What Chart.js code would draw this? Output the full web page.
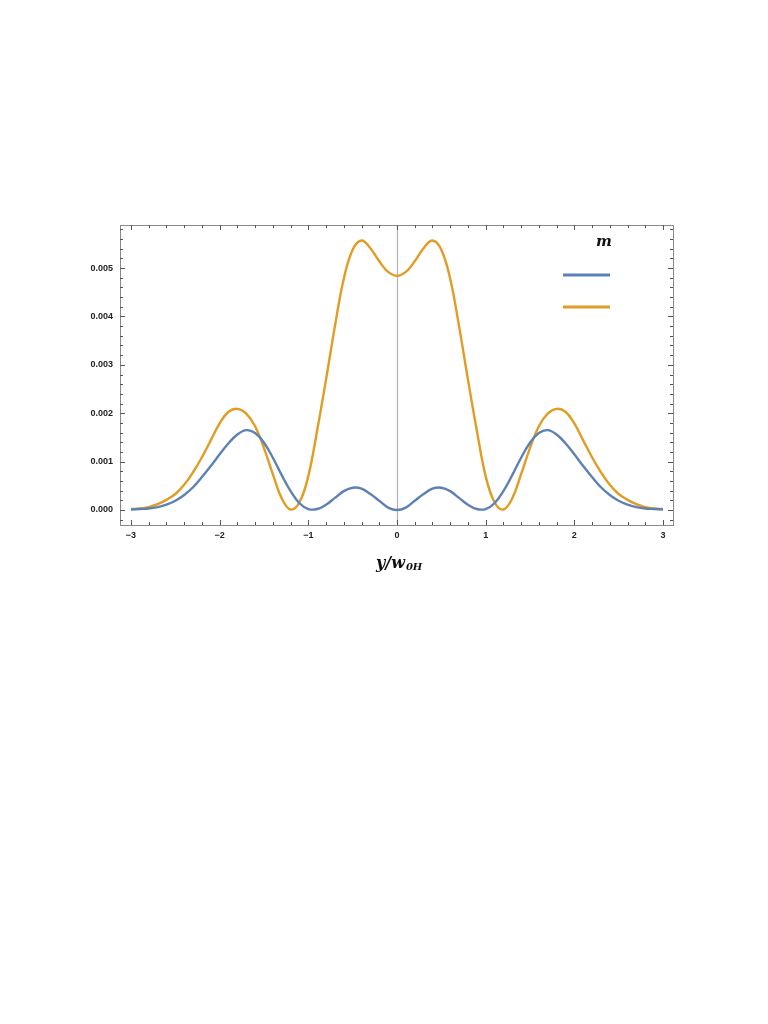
<!DOCTYPE html>
<html>
<head>
<meta charset="utf-8">
<script src="https://cdn.jsdelivr.net/npm/chart.js@4/dist/chart.umd.min.js"></script>
<style>
  html, body { margin: 0; padding: 0; background: #fff; }
  #wrap { position: relative; width: 768px; height: 1024px; }
</style>
</head>
<body>
<div id="wrap"><canvas id="plot"></canvas></div>
<script>
// positions along y/w0H (step 0.1)
const xs = [
  -3.0, -2.9, -2.8, -2.7, -2.6, -2.5, -2.4, -2.3, -2.2, -2.1,
  -2.0, -1.9, -1.8, -1.7, -1.6, -1.5, -1.4, -1.3, -1.2, -1.1,
  -1.0, -0.9, -0.8, -0.7, -0.6, -0.5, -0.4, -0.3, -0.2, -0.1,
  0.0,
  0.1, 0.2, 0.3, 0.4, 0.5, 0.6, 0.7, 0.8, 0.9, 1.0,
  1.1, 1.2, 1.3, 1.4, 1.5, 1.6, 1.7, 1.8, 1.9, 2.0,
  2.1, 2.2, 2.3, 2.4, 2.5, 2.6, 2.7, 2.8, 2.9, 3.0
];

// blue curve
const blueVals = [
  0.00001, 0.00002, 0.00003, 0.00006, 0.00011, 0.00019, 0.00031, 0.00047, 0.00068, 0.00091,
  0.00115, 0.00138, 0.00156, 0.00165, 0.00159, 0.00139, 0.00108, 0.00072, 0.00039, 0.00014,
  0.00002, 0.00002, 0.00011, 0.00025, 0.00039, 0.00046, 0.00044, 0.00033, 0.00019, 0.00005,
  0.00000,
  0.00005, 0.00019, 0.00033, 0.00044, 0.00046, 0.00039, 0.00025, 0.00011, 0.00002, 0.00002,
  0.00014, 0.00039, 0.00072, 0.00108, 0.00139, 0.00159, 0.00165, 0.00156, 0.00138, 0.00115,
  0.00091, 0.00068, 0.00047, 0.00031, 0.00019, 0.00011, 0.00006, 0.00003, 0.00002, 0.00001
];

// orange curve
const orangeVals = [
  0.00002, 0.00003, 0.00006, 0.00012, 0.00021, 0.00033, 0.00052, 0.00078, 0.00109, 0.00144,
  0.00179, 0.00203, 0.00209, 0.00199, 0.00173, 0.00128, 0.00074, 0.00024, 0.00001, 0.00016,
  0.00070, 0.00165, 0.00270, 0.00380, 0.00478, 0.00538, 0.00557, 0.00541, 0.00514, 0.00492,
  0.00484,
  0.00492, 0.00514, 0.00541, 0.00557, 0.00538, 0.00478, 0.00380, 0.00270, 0.00165, 0.00070,
  0.00016, 0.00001, 0.00024, 0.00074, 0.00128, 0.00173, 0.00199, 0.00209, 0.00203, 0.00179,
  0.00144, 0.00109, 0.00078, 0.00052, 0.00033, 0.00021, 0.00012, 0.00006, 0.00003, 0.00002
];

// tick labels
const xTicks = [-3, -2, -1, 0, 1, 2, 3];
const yTicks = [0, 0.001, 0.002, 0.003, 0.004, 0.005];

const BLUE = '#5e81b5';
const ORANGE = '#e19c24';

// frame, inward ticks, zero line, legend and axis label (Mathematica look)
const framePlugin = {
    id: 'frame',
    beforeDatasetsDraw(chart) {
        const { ctx, chartArea: a, scales: { x } } = chart;
        const x0 = Math.round(x.getPixelForValue(0)) + 0.5;
        ctx.save();
        ctx.strokeStyle = '#b4b4b4';
        ctx.lineWidth = 1.2;
        ctx.beginPath();
        ctx.moveTo(x0, a.top);
        ctx.lineTo(x0, a.bottom);
        ctx.stroke();
        ctx.restore();
    },
    afterDraw(chart) {
        const { ctx, chartArea: a, scales: { x, y } } = chart;
        ctx.save();
        ctx.strokeStyle = '#8a8a8a';
        ctx.lineWidth = 1;
        ctx.strokeRect(a.left + 0.5, a.top + 0.5, a.right - a.left, a.bottom - a.top);

        ctx.strokeStyle = '#555';
        ctx.beginPath();
        // x ticks, minor every 0.2
        for (let i = -15; i <= 15; i++) {
            const v = i / 5;
            const px = Math.round(x.getPixelForValue(v)) + 0.5;
            const len = (i % 5 === 0) ? 5 : 3;
            ctx.moveTo(px, a.bottom); ctx.lineTo(px, a.bottom - len);
            ctx.moveTo(px, a.top); ctx.lineTo(px, a.top + len);
        }
        // y ticks, minor every 0.0002
        for (let i = -1; i <= 29; i++) {
            const v = i * 0.0002;
            const py = Math.round(y.getPixelForValue(v)) + 0.5;
            if (py < a.top || py > a.bottom) continue;
            const len = (i % 5 === 0) ? 5 : 3;
            ctx.moveTo(a.left, py); ctx.lineTo(a.left + len, py);
            ctx.moveTo(a.right, py); ctx.lineTo(a.right - len, py);
        }
        ctx.stroke();

        // legend inside the frame
        ctx.fillStyle = '#111';
        ctx.font = 'italic bold 15px "DejaVu Serif", serif';
        ctx.textAlign = 'center';
        ctx.textBaseline = 'middle';
        ctx.fillText('m', 604, 242);
        ctx.lineWidth = 3;
        chart.data.datasets.forEach((ds, i) => {
            const ly = 275 + i * 32;
            ctx.strokeStyle = ds.borderColor;
            ctx.beginPath();
            ctx.moveTo(563, ly);
            ctx.lineTo(610, ly);
            ctx.stroke();
        });

        // x axis label y/w_0H
        const ty = 568;
        ctx.fillStyle = '#111';
        ctx.textAlign = 'left';
        ctx.textBaseline = 'alphabetic';
        ctx.font = 'italic bold 16px "DejaVu Serif", serif';
        const main = 'y/w';
        const wMain = ctx.measureText(main).width;
        ctx.fillText(main, 376, ty);
        ctx.font = 'italic bold 10px "DejaVu Serif", serif';
        ctx.fillText('0H', 376 + wMain + 1, ty + 2);
        ctx.restore();
    }
};

const tickFont = { family: '"Liberation Sans", Arial, sans-serif', size: 9, weight: 'bold' };

new Chart(document.getElementById('plot'), {
    type: 'line',
    data: {
        datasets: [
            {
                label: '',
                data: xs.map((v, i) => ({ x: v, y: blueVals[i] })),
                borderColor: BLUE,
                borderWidth: 2.4,
                pointRadius: 0,
                tension: 0.4,
                fill: false
            },
            {
                label: '',
                data: xs.map((v, i) => ({ x: v, y: orangeVals[i] })),
                borderColor: ORANGE,
                borderWidth: 2.4,
                pointRadius: 0,
                tension: 0.4,
                fill: false
            }
        ]
    },
    options: {
        responsive: true,
        maintainAspectRatio: false,
        animation: false,
        layout: { padding: { left: 0, top: 225, right: 95, bottom: 469 } },
        plugins: { legend: { display: false }, tooltip: { enabled: false } },
        scales: {
            x: {
                type: 'linear',
                min: -3.124,
                max: 3.113,
                grid: { display: false, drawTicks: false },
                border: { display: false },
                afterBuildTicks: s => { s.ticks = xTicks.map(v => ({ value: v })); },
                afterFit: s => { s.height = 30; },
                ticks: {
                    color: '#222',
                    font: tickFont,
                    padding: 5,
                    maxRotation: 0,
                    callback: v => v < 0 ? '\u2212' + Math.abs(v) : String(v)
                }
            },
            y: {
                type: 'linear',
                min: -0.00031,
                max: 0.00589,
                grid: { display: false, drawTicks: false },
                border: { display: false },
                afterBuildTicks: s => { s.ticks = yTicks.map(v => ({ value: v })); },
                afterFit: s => { s.width = 120; },
                ticks: {
                    color: '#222',
                    font: tickFont,
                    padding: 7,
                    callback: v => v.toFixed(3)
                }
            }
        }
    },
    plugins: [framePlugin]
});
</script>
</body>
</html>
